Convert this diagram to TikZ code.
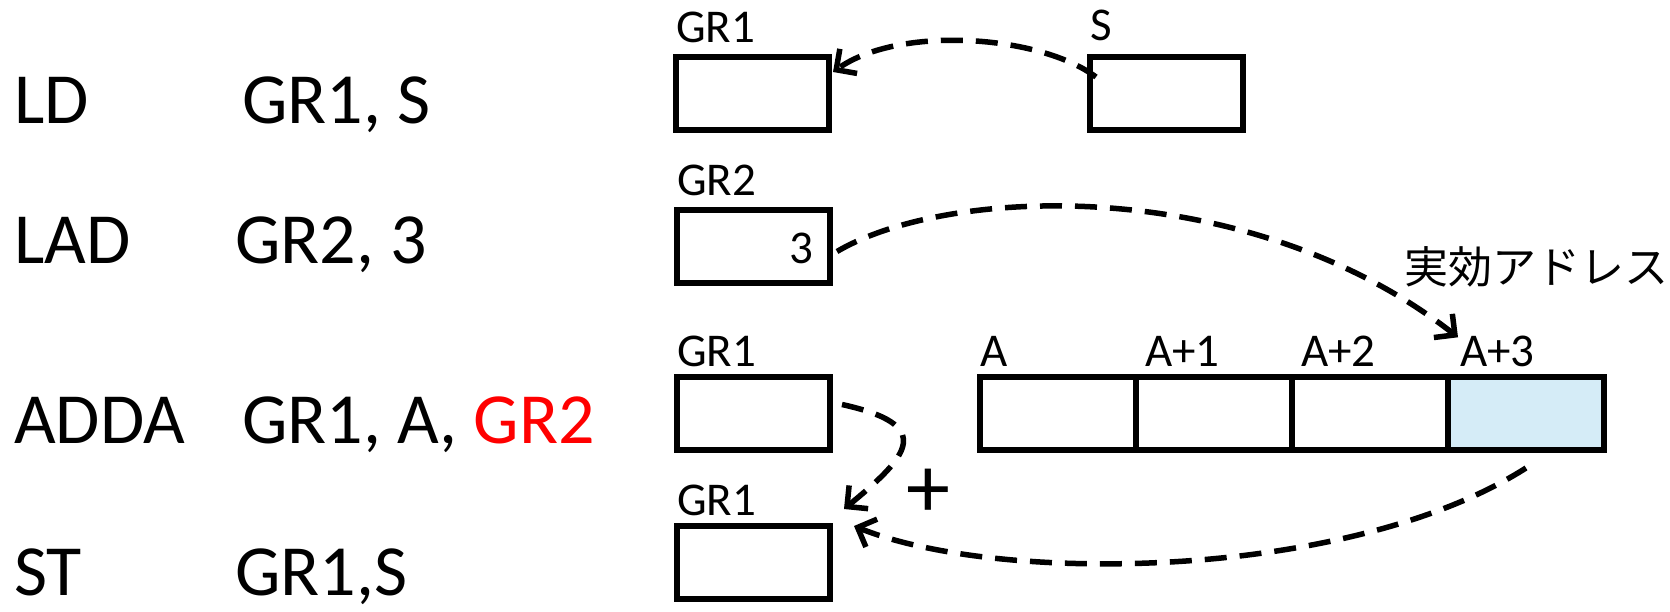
\documentclass[tikz,border=0pt]{standalone}
\usepackage{fontspec}
\setmainfont{Carlito}
\newfontfamily\jpfont{Noto Sans CJK JP}
\usetikzlibrary{arrows.meta,positioning,calc}

\definecolor{cellblue}{HTML}{D5ECF7}

\tikzset{
    big/.style={font=\fontsize{72}{80}\selectfont, inner sep=0pt},
    lbl/.style={font=\fontsize{47}{52}\selectfont, inner sep=0pt},
    regbox/.style={draw, line width=6.5pt, minimum width=153pt, minimum height=73pt,
        inner sep=0pt, outer sep=0pt, anchor=north west},
    cell/.style={regbox, minimum width=156pt},
    flow/.style={line width=5.5pt, dash pattern=on 22pt off 13pt,
        -{Straight Barb[length=15pt,width=30pt,line width=5.5pt]}}
}

\begin{document}
\begin{tikzpicture}[x=1pt,y=-1pt]
    \useasboundingbox (0,0) rectangle (1670,612);

    % Instructions
    \node[big, anchor=base west] (ld)   at (14,124) {LD};
    \node[big, anchor=base west] (ldop) at (242,124) {GR1, S};
    \node[big, anchor=base west] (lad)   at (14,264) {LAD};
    \node[big, anchor=base west] (ladop) at (235,264) {GR2, 3};
    \node[big, anchor=base west] (adda)   at (14,443) {ADDA};
    \node[big, anchor=base west] (addaop) at (242,443) {GR1, A, \textcolor{red}{GR2}};
    \node[big, anchor=base west] (st)   at (14,595) {ST};
    \node[big, anchor=base west] (stop) at (235,595) {GR1,S};

    % Registers and memory
    \node[regbox] (r1) at (676,57) {};
    \node[regbox] (s)  at (1090,57) {};
    \node[regbox] (r2) at (677,210) {};
    \node[regbox] (r3) at (677,377) {};
    \node[regbox] (r4) at (677,526) {};
    \node[lbl, anchor=east] (three) at ([xshift=-16pt,yshift=-2pt]r2.east) {3};

    % Array A .. A+3
    \node[cell] (c1) at (980,377) {};
    \node[cell, right=0pt of c1] (c2) {};
    \node[cell, right=0pt of c2] (c3) {};
    \node[cell, right=0pt of c3, fill=cellblue] (c4) {};
    \draw[line width=6.5pt] (c1.north west) rectangle (c4.south east);

    % Labels
    \node[lbl, anchor=base west] (lr1) at ([yshift=14pt]r1.north west) {GR1};
    \node[lbl, anchor=base west] (ls)  at ([yshift=16pt]s.north west) {S};
    \node[lbl, anchor=base west] (lr2) at ([yshift=14pt]r2.north west) {GR2};
    \node[lbl, anchor=base west] (lr3) at ([yshift=11pt]r3.north west) {GR1};
    \node[lbl, anchor=base west] (lr4) at ([yshift=11pt]r4.north west) {GR1};
    \foreach \i/\t/\dx in {1/A/0,2/A+1/9,3/A+2/9,4/A+3/12} {
        \node[lbl, anchor=base west] (l\i) at ([xshift=\dx pt,yshift=11pt]c\i.north west) {\t};
    }
    \node[anchor=west, inner sep=0pt, font=\jpfont\fontsize{44}{50}\selectfont] (ea) at (1404,267) {実効アドレス};
    \node[big, font=\fontsize{88}{90}\selectfont] (plus) at (928,493) {+};

    % Data flow
    \draw[flow] ([xshift=6pt,yshift=-20pt]s.north west)
        .. controls (1040,35) and (900,25) .. ([xshift=4pt,yshift=-15pt]r1.north east);
    \draw[flow] ([xshift=7pt,yshift=-5pt]r2.east)
        .. controls (950,185) and (1250,175) .. ([xshift=-2pt,yshift=-2pt]l4.north west);
    \draw[flow] ([xshift=12pt,yshift=9pt]r3.east)
        .. controls (935,425) and (910,455) .. ([xshift=14pt,yshift=17pt]r4.north east);
    \draw[flow] ([yshift=-18pt]c4.south)
        .. controls (1350,580) and (1000,585) .. ([xshift=24pt]r4.north east);
\end{tikzpicture}
\end{document}
